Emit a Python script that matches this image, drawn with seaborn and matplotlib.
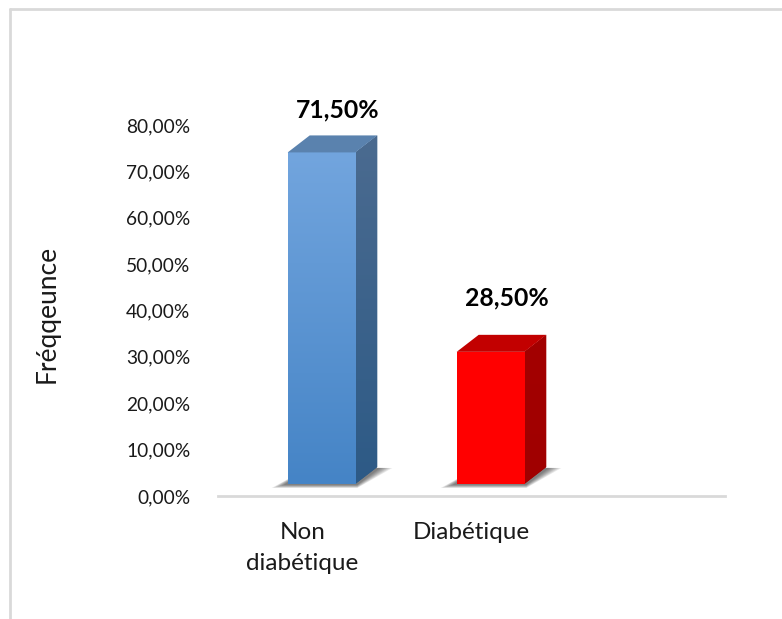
import numpy as np
import pandas as pd
import matplotlib
matplotlib.use("Agg")
import matplotlib.pyplot as plt
import seaborn as sns
from matplotlib.transforms import ScaledTranslation
from matplotlib.patches import Polygon
from matplotlib.colors import to_rgb
from matplotlib.lines import Line2D

# Data
categories = ["Non\ndiabétique", "Diabétique"]
values = [71.5, 28.5]
value_labels = ["71,50%", "28,50%"]
yticks = [0, 10, 20, 30, 40, 50, 60, 70, 80]
ytick_labels = ["0,00%", "10,00%", "20,00%", "30,00%", "40,00%",
                "50,00%", "60,00%", "70,00%", "80,00%"]
y_title = "Fréqqeunce"

# Face colours per bar: front (top, bottom), side (top, bottom), top face
front_cols = [("#72a5de", "#4584c6"), ("#ff0000", "#ff0000")]
side_cols = [("#4b6b90", "#2d5a86"), ("#a30000", "#a00000")]
top_cols = ["#5a82ae", "#c20000"]
label_lift = [54, 66]  # pixel lift of each value label above its bar

sns.set_theme(style="white")
plt.rcParams["font.family"] = ["Lato", "DejaVu Sans"]

W, H, DPI = 782, 619, 100
fig = plt.figure(figsize=(W / DPI, H / DPI), dpi=DPI)
ax_l, ax_r, ax_b, ax_t = 218, 725, 496, 125
ax = fig.add_axes([ax_l / W, (H - ax_b) / H, (ax_r - ax_l) / W, (ax_b - ax_t) / H])

df = pd.DataFrame({"cat": categories, "val": values})
sns.barplot(data=df, x="cat", y="val", hue="cat", palette=[c[1] for c in front_cols],
            width=0.4, legend=False, ax=ax, zorder=3, linewidth=0)

ax.set_xlim(-0.5, 2.5)
ax.set_ylim(0, 80)
ax.set_yticks(yticks)
ax.set_yticklabels(ytick_labels, fontsize=13.8, color="#1a1a1a")
ax.set_xticks([0, 1])
ax.set_xticklabels(categories, fontsize=17.5, color="#1a1a1a", va="top",
                   linespacing=1.55)
ax.tick_params(axis="y", length=0, pad=20)
ax.tick_params(axis="x", length=0, pad=19)
ax.set_xlabel("")
ax.set_ylabel(y_title, fontsize=19, color="#1a1a1a")
ax.yaxis.set_label_coords((60 - ax_l) / (ax_r - ax_l), 0.49)
for s in ["top", "left", "right"]:
    ax.spines[s].set_visible(False)
ax.spines["bottom"].set_color("#d9d9d9")
ax.spines["bottom"].set_linewidth(2)
ax.grid(False)

# Pixel scale of data units
px_x = (ax_r - ax_l) / 3.0
px_y = (ax_b - ax_t) / 80.0
depth_dx, depth_dy = 22 / px_x, 17 / px_y

# Front faces are lifted and shifted to sit on the perspective floor
off = ax.transData + ScaledTranslation(19 / DPI, 12 / DPI, fig.dpi_scale_trans)

for i, p in enumerate(ax.patches):
    p.set_transform(off)
    x0, w, h = p.get_x(), p.get_width(), p.get_height()
    x1 = x0 + w

    # soft floor shadow
    for k in range(7):
        shp = Polygon([(x0 - (16 - 2 * k) / px_x, (-4 + 0.5 * k) / px_y),
                       (x1 + 2 / px_x, (-4 + 0.5 * k) / px_y),
                       (x1 + depth_dx + (15 - 2 * k) / px_x, depth_dy - 1 / px_y),
                       (x0 + depth_dx, depth_dy)],
                      closed=True, facecolor="black", alpha=0.09,
                      edgecolor="none", transform=off, zorder=1, clip_on=False)
        ax.add_patch(shp)

    # vertical gradient on the front face
    c_top, c_bot = np.array(to_rgb(front_cols[i][0])), np.array(to_rgb(front_cols[i][1]))
    t = np.linspace(0, 1, 128)[:, None]
    grad = (c_top * (1 - t) + c_bot * t)[:, None, :]
    im = ax.imshow(grad, extent=[x0, x1, 0, h], origin="upper", aspect="auto",
                   zorder=3.5, interpolation="bilinear")
    im.set_transform(off)
    im.set_clip_path(p)

    # side face with gradient
    side = Polygon([(x1, 0), (x1 + depth_dx, depth_dy), (x1 + depth_dx, h + depth_dy), (x1, h)],
                   closed=True, facecolor=side_cols[i][1], edgecolor="none",
                   transform=off, zorder=3, clip_on=False)
    ax.add_patch(side)
    s_top, s_bot = np.array(to_rgb(side_cols[i][0])), np.array(to_rgb(side_cols[i][1]))
    sgrad = (s_top * (1 - t) + s_bot * t)[:, None, :]
    sim = ax.imshow(sgrad, extent=[x1, x1 + depth_dx, 0, h + depth_dy], origin="upper",
                    aspect="auto", zorder=3.2, interpolation="bilinear")
    sim.set_transform(off)
    sim.set_clip_path(side)

    # top face
    top = Polygon([(x0, h), (x1, h), (x1 + depth_dx, h + depth_dy), (x0 + depth_dx, h + depth_dy)],
                  closed=True, facecolor=top_cols[i], edgecolor="none",
                  transform=off, zorder=3.6, clip_on=False)
    ax.add_patch(top)

ax.set_xlim(-0.5, 2.5)
ax.set_ylim(0, 80)

# value labels above the bars
for i, v in enumerate(values):
    ax.annotate(value_labels[i], xy=(i, v), xytext=(35.5, label_lift[i]),
                textcoords="offset pixels", ha="center", va="center",
                fontsize=17.8, fontweight="bold", color="black",
                annotation_clip=False, zorder=5)

# chart area border (top and left edges)
fig.add_artist(Line2D([9.5 / W, 9.5 / W], [0, 1 - 9 / H], color="#d9d9d9", lw=2,
                      transform=fig.transFigure))
fig.add_artist(Line2D([9.5 / W, 1], [1 - 9 / H, 1 - 9 / H], color="#d9d9d9", lw=2,
                      transform=fig.transFigure))

fig.savefig("out.png", dpi=DPI, facecolor="white")
